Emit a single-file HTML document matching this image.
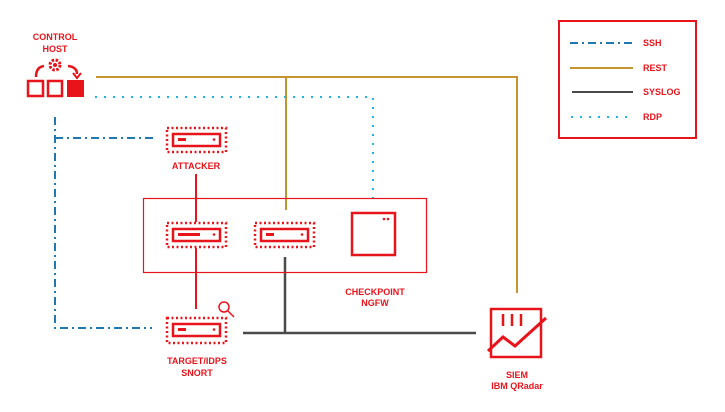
<!DOCTYPE html>
<html><head><style>body{margin:0;background:#fff}svg{display:block}text{font-family:"Liberation Sans",sans-serif;font-weight:bold;fill:#e8141c;font-size:9px}</style></head><body>
<svg width="725" height="412" viewBox="0 0 725 412">
<rect x="559" y="21" width="137" height="117" fill="none" stroke="#e8141c" stroke-width="2"/>
<line x1="570" y1="43" x2="633" y2="43" stroke="#1f78b0" stroke-width="2" stroke-dasharray="8,4,2,4"/>
<line x1="570" y1="68" x2="633" y2="68" stroke="#c4952f" stroke-width="2"/>
<line x1="572" y1="92" x2="633" y2="92" stroke="#4a4a4a" stroke-width="2"/>
<line x1="571" y1="117" x2="633" y2="117" stroke="#1fb4e4" stroke-width="2" stroke-dasharray="2,7"/>
<text x="643" y="46">SSH</text><text x="643" y="71">REST</text><text x="643" y="95">SYSLOG</text><text x="643" y="120">RDP</text>
<polyline points="96,77 517,77 517,293" fill="none" stroke="#c4952f" stroke-width="2"/>
<line x1="286" y1="77" x2="286" y2="210" stroke="#c4952f" stroke-width="2"/>
<polyline points="95,97 373,97 373,203" fill="none" stroke="#1fb4e4" stroke-width="2" stroke-dasharray="2,7"/>
<polyline points="55,117 55,328 152,328" fill="none" stroke="#1f78b0" stroke-width="2" stroke-dasharray="8,4,2,4"/>
<line x1="55" y1="138" x2="153" y2="138" stroke="#1f78b0" stroke-width="2" stroke-dasharray="8,4,2,4"/>
<line x1="243" y1="333" x2="476" y2="333" stroke="#4a4a4a" stroke-width="2.5"/>
<line x1="285" y1="257" x2="285" y2="333" stroke="#4a4a4a" stroke-width="2.5"/>
<line x1="196" y1="174" x2="196" y2="222" stroke="#e8141c" stroke-width="2"/>
<line x1="196" y1="248" x2="196" y2="309" stroke="#e8141c" stroke-width="2"/>
<text x="55" y="40" text-anchor="middle">CONTROL</text><text x="55" y="52" text-anchor="middle">HOST</text>
<rect x="28" y="81" width="15" height="15" fill="none" stroke="#e8141c" stroke-width="2.5"/>
<rect x="48" y="81" width="14" height="15" fill="none" stroke="#e8141c" stroke-width="2.5"/>
<rect x="67" y="80" width="17" height="17" fill="#e8141c"/>
<path d="M36,77 Q36,67 44,66" fill="none" stroke="#e8141c" stroke-width="2.5"/>
<path d="M68,66 Q77,67 77,74" fill="none" stroke="#e8141c" stroke-width="2.5"/>
<path d="M73,73 L77,78 L81,73" fill="none" stroke="#e8141c" stroke-width="2"/>
<circle cx="55" cy="65" r="5" fill="none" stroke="#e8141c" stroke-width="3" stroke-dasharray="2.5,1.5"/>
<circle cx="55" cy="65" r="2" fill="#e8141c"/>
<g fill="none" stroke="#e8141c">
<rect x="167" y="128" width="59" height="24" stroke-width="2.5" stroke-dasharray="2,2.5"/>
<rect x="173" y="134" width="47" height="12" stroke-width="2.5"/>
<rect x="167" y="223" width="59" height="24" stroke-width="2.5" stroke-dasharray="2,2.5"/>
<rect x="173" y="229" width="47" height="12" stroke-width="2.5"/>
<rect x="255" y="223" width="59" height="24" stroke-width="2.5" stroke-dasharray="2,2.5"/>
<rect x="261" y="229" width="47" height="12" stroke-width="2.5"/>
<rect x="167" y="318" width="59" height="25" stroke-width="2.5" stroke-dasharray="2,2.5"/>
<rect x="173" y="324" width="47" height="12" stroke-width="2.5"/>
<rect x="352" y="213" width="43" height="42" stroke-width="2.5"/>
<rect x="143.5" y="198.5" width="283" height="74" stroke-width="1.2"/>
<circle cx="224" cy="307" r="5" stroke-width="1.5"/>
<line x1="228" y1="311" x2="234" y2="317" stroke-width="1.5"/>
<path d="M491,309 L541,309 L541,357 L491,357 Z" stroke-width="2.5"/>
<path d="M488,351 L503,337 L515,346 L546,318" stroke-width="3" fill="none"/>
<line x1="503" y1="314" x2="503" y2="326" stroke-width="2.5"/><line x1="512" y1="314" x2="512" y2="326" stroke-width="2.5"/><line x1="521" y1="314" x2="521" y2="326" stroke-width="2.5"/>
</g>
<g fill="#e8141c">
<rect x="178" y="138" width="8" height="3"/><circle cx="214" cy="139.5" r="1.3"/>
<rect x="178" y="233" width="22" height="3"/><circle cx="214" cy="234.5" r="1.3"/>
<rect x="266" y="233" width="8" height="3"/><circle cx="302" cy="234.5" r="1.3"/>
<rect x="178" y="328" width="8" height="3"/><circle cx="214" cy="329.5" r="1.3"/>
<circle cx="384" cy="219" r="1.3"/><circle cx="388" cy="219" r="1.3"/>
</g>
<text x="196" y="169" text-anchor="middle">ATTACKER</text>
<text x="375" y="295" text-anchor="middle">CHECKPOINT</text><text x="375" y="306" text-anchor="middle">NGFW</text>
<text x="197" y="364" text-anchor="middle">TARGET/IDPS</text><text x="197" y="376" text-anchor="middle">SNORT</text>
<text x="517" y="378" text-anchor="middle">SIEM</text><text x="517" y="389" text-anchor="middle">IBM QRadar</text>
</svg>
</body></html>
